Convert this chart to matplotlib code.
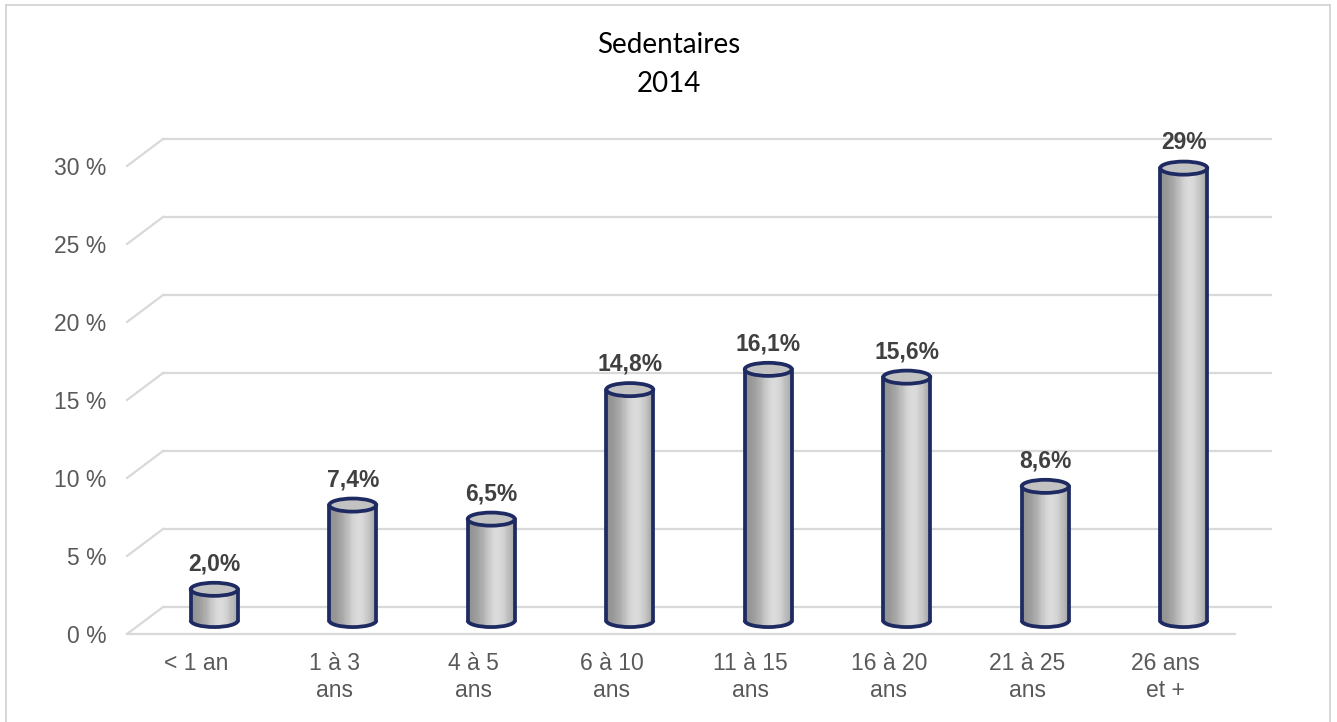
import numpy as np
import matplotlib
matplotlib.use("Agg")
import matplotlib.pyplot as plt
from matplotlib.patches import Ellipse, Arc, Polygon
from matplotlib.lines import Line2D

# data
categories = ["< 1 an", "1 à 3\nans", "4 à 5\nans", "6 à 10\nans",
              "11 à 15\nans", "16 à 20\nans", "21 à 25\nans", "26 ans\net +"]
values = [2.0, 7.4, 6.5, 14.8, 16.1, 15.6, 8.6, 29.0]
value_labels = ["2,0%", "7,4%", "6,5%", "14,8%", "16,1%", "15,6%", "8,6%", "29%"]
yticks = [0, 5, 10, 15, 20, 25, 30]
ytick_labels = ["0 %", "5 %", "10 %", "15 %", "20 %", "25 %", "30 %"]

plt.rcParams['font.family'] = ['Liberation Sans', 'DejaVu Sans']

W, H = 1337, 722
fig = plt.figure(figsize=(W / 100, H / 100), dpi=100)
ax = fig.add_axes([127 / W, (H - 634) / H, (1235 - 127) / W, (634 - 166) / H])
ax.set_xlim(-0.5, len(values) - 0.5)
ax.set_ylim(0, 30)

# depth of the 3d floor in data units (back wall offset)
dx, dy = 0.26, 1.73
grid_col = "#d9d9d9"

# gridlines on the back wall + slanted side wall segment
for v in yticks:
    ax.plot([-0.5 + dx, len(values) - 0.5 + dx], [v + dy, v + dy],
            color=grid_col, lw=1.6, clip_on=False, zorder=1)
    ax.plot([-0.5, -0.5 + dx], [v, v + dy], color=grid_col, lw=1.6,
            clip_on=False, zorder=1)
# front edge of floor
ax.plot([-0.5, len(values) - 0.5], [0, 0], color=grid_col, lw=1.6,
        clip_on=False, zorder=1)

# cylinders
r = 0.17       # half width (data x)
e = 0.42       # half height of ellipse (data y)
edge = "#1e2a62"
elw = 2.7
n_strips = 40


def shade(t):
    g = 0.56 + 0.30 * np.exp(-((t - 0.64) / 0.34) ** 2)
    return (g, g, g)


for i, v in enumerate(values):
    xm = i + dx / 2
    base = dy / 2
    top = v + dy / 2
    xs = np.linspace(-r, r, n_strips + 1)
    for k in range(n_strips):
        x0, x1 = xs[k], xs[k + 1]
        yb0 = base - e * np.sqrt(max(0, 1 - (x0 / r) ** 2))
        yb1 = base - e * np.sqrt(max(0, 1 - (x1 / r) ** 2))
        poly = Polygon([(xm + x0, yb0), (xm + x1, yb1), (xm + x1, top), (xm + x0, top)],
                       closed=True, facecolor=shade((k + 0.5) / n_strips),
                       edgecolor='none', antialiased=False, zorder=3, clip_on=False)
        ax.add_patch(poly)
    ax.plot([xm - r, xm - r], [base, top], color=edge, lw=elw, zorder=4,
            solid_capstyle='round', clip_on=False)
    ax.plot([xm + r, xm + r], [base, top], color=edge, lw=elw, zorder=4,
            solid_capstyle='round', clip_on=False)
    ax.add_patch(Arc((xm, base), 2 * r, 2 * e, theta1=180, theta2=360,
                     color=edge, lw=elw, zorder=4, clip_on=False))
    ax.add_patch(Ellipse((xm, top), 2 * r, 2 * e, facecolor="#c2c2c2",
                         edgecolor=edge, lw=elw, zorder=5, clip_on=False))
    ax.annotate(value_labels[i], (xm, top), xytext=(0, 19), textcoords='offset pixels',
                ha='center', va='baseline', fontsize=16.5, fontweight='bold',
                color="#404040", zorder=6, annotation_clip=False)

# axes styling
for s in ax.spines.values():
    s.set_visible(False)
ax.set_yticks(yticks)
ax.set_yticklabels(ytick_labels)
ax.set_xticks(range(len(categories)))
ax.set_xticklabels(categories, linespacing=1.2)
ax.tick_params(axis='both', length=0, labelsize=16.5, labelcolor="#595959")
ax.tick_params(axis='y', pad=15)
ax.tick_params(axis='x', pad=13)

# title
fig.text(0.5, 1 - 45 / H, "Sedentaires", ha='center', va='center',
         fontsize=20, family='Lato', color='black')
fig.text(0.5, 1 - 84 / H, "2014", ha='center', va='center',
         fontsize=20, family='Lato', color='black')

# light frame around the chart
fc = "#d0d0d0"
fig.add_artist(Line2D([6 / W, 6 / W], [0, 1 - 5 / H], color=fc, lw=1.2))
fig.add_artist(Line2D([1330 / W, 1330 / W], [0, 1 - 5 / H], color=fc, lw=1.2))
fig.add_artist(Line2D([6 / W, 1330 / W], [1 - 5 / H, 1 - 5 / H], color=fc, lw=1.2))

fig.savefig("out.png", dpi=100)
